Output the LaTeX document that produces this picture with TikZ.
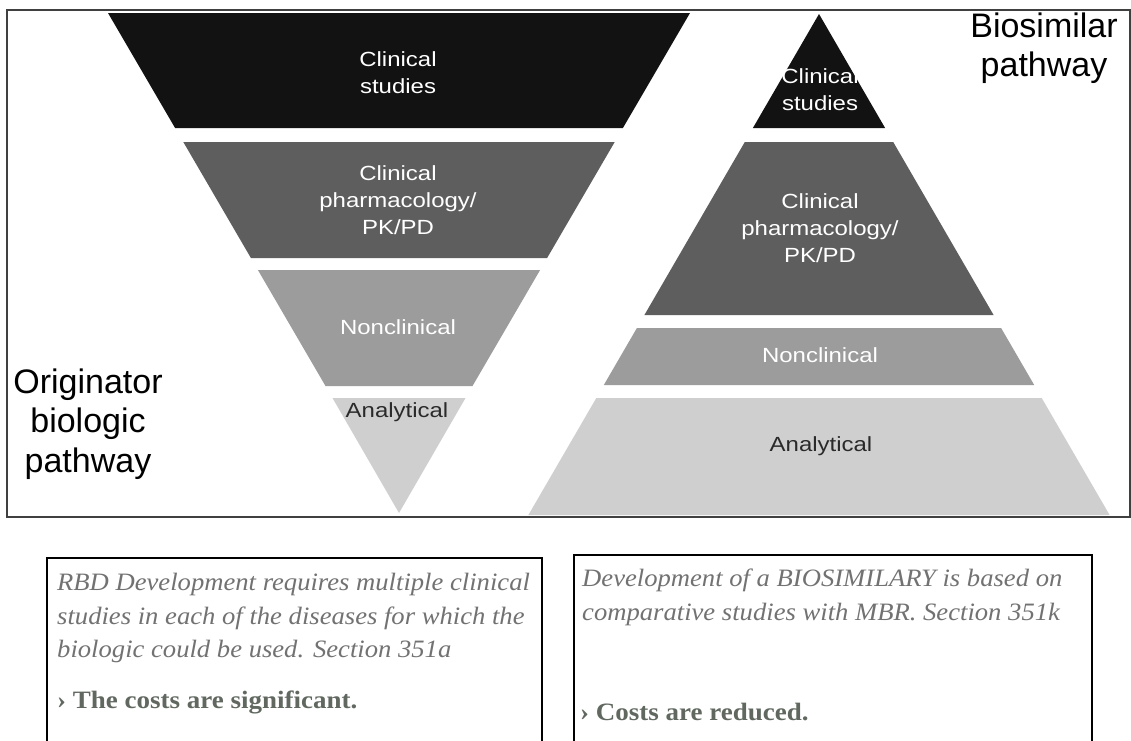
\documentclass[tikz,border=0pt]{standalone}
\usepackage{fontspec}
\setmainfont{Liberation Serif}
\newfontfamily\labelfont{Liberation Sans}
\definecolor{bandA}{HTML}{121212}
\definecolor{bandB}{HTML}{5E5E5E}
\definecolor{bandC}{HTML}{9C9C9C}
\definecolor{bandD}{HTML}{CFCFCF}
\definecolor{noteText}{HTML}{727272}
\definecolor{noteBold}{HTML}{606860}
\definecolor{darkLabel}{HTML}{2A2A2A}
\begin{document}
\begin{tikzpicture}[x=1pt,y=-1pt,
  lbl/.style={font=\labelfont\fontsize{20.5}{27}\selectfont, align=center, xscale=1.17, inner sep=0pt, text=white},
  dlbl/.style={lbl, text=darkLabel},
  title/.style={font=\labelfont\fontsize{34}{39.5}\selectfont, align=center, inner sep=0pt, text=black},
  note/.style={font=\fontsize{25}{34}\selectfont\itshape, text=noteText, anchor=base west, inner sep=0pt, xscale=1.065},
  notebold/.style={font=\fontsize{25}{34}\selectfont\bfseries, text=noteBold, anchor=base west, inner sep=0pt, xscale=1.08},
  frameline/.style={draw=black!75, line width=1.4pt},
  boxline/.style={draw=black, line width=1.5pt}]
\useasboundingbox (0,0) rectangle (1131,740);
\fill[white] (0,0) rectangle (1131,740);

% outer frame of the figure
\draw[frameline] (7,10) rectangle (1130,517);

% originator pathway: inverted pyramid
\fill[bandA] (108,13) -- (690,13) -- (622.9,128) -- (175.1,128) -- cycle;
\fill[bandB] (183.3,142) -- (614.7,142) -- (547.1,258) -- (250.9,258) -- cycle;
\fill[bandC] (257.9,270) -- (540.1,270) -- (472.5,386) -- (325.5,386) -- cycle;
\fill[bandD] (332.5,398) -- (465.5,398) -- (399,513) -- cycle;

% biosimilar pathway: upright pyramid
\fill[bandA] (819,14) -- (885.1,128) -- (752.9,128) -- cycle;
\fill[bandB] (744.8,142) -- (893.2,142) -- (993.6,315) -- (644.4,315) -- cycle;
\fill[bandC] (636.9,328) -- (1001.1,328) -- (1034.2,385) -- (603.8,385) -- cycle;
\fill[bandD] (596.3,398) -- (1041.7,398) -- (1109.6,515) -- (528.4,515) -- cycle;

% labels of the inverted pyramid
\node[lbl] (oClin) at (398,73) {Clinical\\studies};
\node[lbl] (oPk) at (398,200) {Clinical\\pharmacology/\\PK/PD};
\node[lbl] (oNon) at (398,327) {Nonclinical};
\node[dlbl] (oAna) at (397,412) {Analytical};

% labels of the upright pyramid
\node[lbl] (bClin) at (820,90) {Clinical\\studies};
\node[lbl] (bPk) at (820,228) {Clinical\\pharmacology/\\PK/PD};
\node[lbl] (bNon) at (820,355) {Nonclinical};
\node[dlbl] (bAna) at (821,446) {Analytical};

% pathway titles
\node[title] (oTitle) at (88,424) {Originator\\biologic\\pathway};
\node[title] (bTitle) at (1044,48) {Biosimilar\\pathway};

% explanatory boxes (open at the bottom edge)
\draw[boxline] (47,745) -- (47,558) -- (542,558) -- (542,745);
\draw[boxline] (574,745) -- (574,555) -- (1092,555) -- (1092,745);

\node[note] (l1) at (57,590) {RBD Development requires multiple clinical};
\node[note] (l2) at (57,624) {studies in each of the diseases for which the};
\node[note] (l3) at (57,657) {biologic could be used. Section 351a};
\node[notebold] (l4) at (57,708) {› The costs are significant.};

\node[note] (r1) at (582,586) {Development of a BIOSIMILARY is based on};
\node[note] (r2) at (582,620) {comparative studies with MBR. Section 351k};
\node[notebold] (r3) at (580,720) {› Costs are reduced.};
\end{tikzpicture}
\end{document}
